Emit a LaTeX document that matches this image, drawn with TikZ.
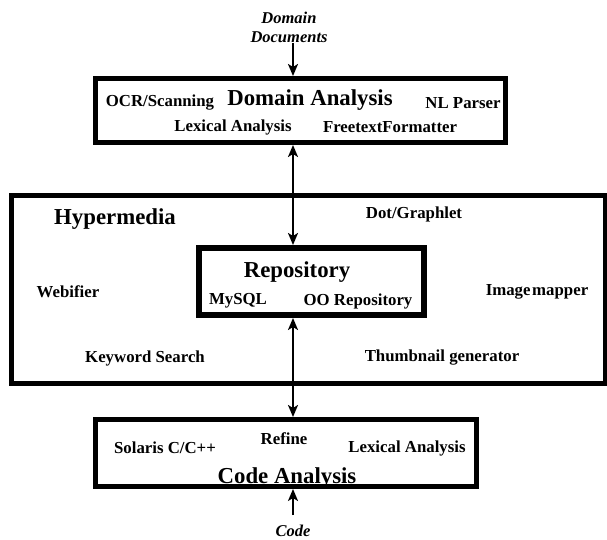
\documentclass[tikz,border=0pt]{standalone}
\usepackage{fontspec}
\setmainfont{Liberation Serif}
\usetikzlibrary{arrows.meta}
\tikzset{
  thickbox/.style={draw, line width=5pt, rectangle, inner sep=0pt},
  lbl/.style={font=\fontsize{16.8}{18}\selectfont\bfseries, inner sep=0pt},
  biglbl/.style={font=\fontsize{22.8}{24}\selectfont\bfseries, inner sep=0pt},
  itlbl/.style={font=\fontsize{16.5}{19}\selectfont\bfseries\itshape, inner sep=0pt, align=center},
  flow/.style={line width=2pt, -{Stealth[length=12pt,width=10pt,inset=3pt]}},
  bflow/.style={line width=2pt, {Stealth[length=12pt,width=10pt,inset=3pt]}-{Stealth[length=12pt,width=10pt,inset=3pt]}}
}
\begin{document}
\begin{tikzpicture}[x=1pt,y=-1pt]
\useasboundingbox (0,0) rectangle (607,540);
% boxes
\node[thickbox, minimum width=410pt, minimum height=64pt] (dom) at (300.5,110.5) {};
\node[thickbox, minimum width=593.5pt, minimum height=188pt] (hyp) at (308.25,289.5) {};
\node[thickbox, line width=6pt, minimum width=225pt, minimum height=67pt] (repo) at (311.5,281.5) {};
\node[thickbox, minimum width=381pt, minimum height=67pt] (code) at (286,453) {};
% domain box texts
\node[lbl] (ocr) at (160,103) {OCR/Scanning};
\node[biglbl] (domt) at (310,100) {Domain Analysis};
\node[lbl] (nlp) at (463,103) {NL Parser};
\node[lbl] (lex1) at (233,127) {Lexical Analysis};
\node[lbl] (fft) at (390,127) {FreetextFormatter};
% hypermedia texts
\node[biglbl] (hypt) at (115,219) {Hypermedia};
\node[lbl] (dot) at (414,214) {Dot/Graphlet};
\node[lbl] (web) at (68,292) {Webifier};
\node[lbl] (img) at (537,292) {Image\hspace{0.1em}mapper};
\node[lbl] (kw) at (145,358) {Keyword Search};
\node[lbl] (thumb) at (442,358) {Thumbnail generator};
% repository texts
\node[biglbl] (repot) at (297,272) {Repository};
\node[lbl] (mysql) at (238,301) {MySQL};
\node[lbl] (oo) at (358,301) {OO Repository};
% code box texts
\node[lbl] (sol) at (165,448) {Solaris C/C++};
\node[lbl] (ref) at (284,439) {Refine};
\node[lbl] (lex2) at (407,448) {Lexical Analysis};
\node[biglbl] (codet) at (287,478) {Code Analysis};
% inputs
\node[itlbl] (ddoc) at (289,27.5) {Domain\\Documents};
\node[itlbl] (codein) at (293,531) {Code};
% connectors
\coordinate (ax) at (293,0);
\coordinate (ddtail) at (293,43);
\coordinate (codetail) at (293,515);
\draw[flow] (ddtail) -- (ax |- dom.north);
\draw[bflow] (ax |- dom.south) -- (ax |- repo.north);
\draw[bflow] (ax |- repo.south) -- (ax |- code.north);
\draw[flow] (codetail) -- (ax |- code.south);
\end{tikzpicture}
\end{document}
